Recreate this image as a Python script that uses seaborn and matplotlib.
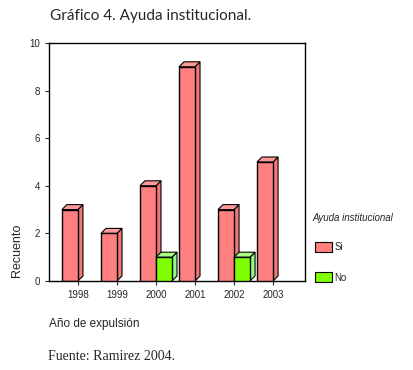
import pandas as pd
import matplotlib
matplotlib.use('Agg')
import matplotlib.pyplot as plt
import seaborn as sns
from matplotlib.patches import Polygon, Patch

# datos
anios = ['1998', '1999', '2000', '2001', '2002', '2003']
ayuda_si = [3, 2, 4, 9, 3, 5]
ayuda_no = [0, 0, 1, 0, 1, 0]
grupos = ['Si', 'No']

df = pd.DataFrame({
    'anio': anios * 2,
    'ayuda': ['Si'] * len(anios) + ['No'] * len(anios),
    'recuento': ayuda_si + ayuda_no,
})

sns.set_style('white')
plt.rcParams['font.family'] = ['Liberation Sans', 'DejaVu Sans']

fig = plt.figure(figsize=(4.13, 3.70), dpi=100)
ax = fig.add_axes([49 / 413, 1 - 281 / 370, 256 / 413, 238 / 370])

colores = {'Si': '#ff8080', 'No': '#80ff00'}
lados = {'Si': '#f27878', 'No': '#8cff8c'}
topes = {'Si': '#ff9a9a', 'No': '#a6ff80'}

sns.barplot(data=df, x='anio', y='recuento', hue='ayuda', hue_order=grupos,
            palette=colores, saturation=1, width=0.82, edgecolor='black',
            linewidth=1, legend=False, ax=ax)

# efecto 3D: caras lateral y superior a partir de cada barra
dx, dy = 0.13, 0.21
for grupo, cont in zip(grupos, ax.containers):
    for bar in cont:
        h = bar.get_height()
        if h <= 0:
            bar.set_visible(False)
            continue
        x0 = bar.get_x()
        x1 = x0 + bar.get_width()
        z = 2 + x0
        bar.set_zorder(z)
        lado = Polygon([(x1, 0), (x1 + dx, dy), (x1 + dx, h + dy), (x1, h)],
                       closed=True, facecolor=lados[grupo], edgecolor='black',
                       linewidth=0.8, zorder=z - 0.01)
        tope = Polygon([(x0, h), (x0 + dx, h + dy), (x1 + dx, h + dy), (x1, h)],
                       closed=True, facecolor=topes[grupo], edgecolor='black',
                       linewidth=0.8, zorder=z - 0.01)
        ax.add_patch(lado)
        ax.add_patch(tope)

ax.set_xlim(-0.74, 5.82)
ax.set_ylim(0, 10)
ax.set_yticks([0, 2, 4, 6, 8, 10])
ax.tick_params(axis='both', labelsize=7, length=3, direction='out',
               left=True, bottom=True, width=0.8)
for s in ax.spines.values():
    s.set_visible(True)
    s.set_color('black')
    s.set_linewidth(1)
ax.set_xlabel('')
ax.set_ylabel('')

fig.text(50 / 413, 1 - 20 / 370, 'Gráfico 4. Ayuda institucional.',
         fontsize=11, family=['Lato', 'DejaVu Sans'], va='baseline')
fig.text(17 / 413, 1 - 250 / 370, 'Recuento', rotation=90, fontsize=9,
         ha='center', va='center')
fig.text(49 / 413, 1 - 327 / 370, 'Año de expulsión', fontsize=8.5,
         va='baseline')
fig.text(48 / 413, 1 - 360 / 370, 'Fuente: Ramirez 2004.', fontsize=10,
         family=['Liberation Serif'], va='baseline')

# leyenda
fig.text(312 / 413, 1 - 221 / 370, 'Ayuda institucional', fontsize=7,
         style='italic', va='baseline')
handles = [Patch(facecolor=colores[g], edgecolor='black', linewidth=0.8)
           for g in grupos]
fig.legend(handles, grupos, loc='upper left',
           bbox_to_anchor=(306 / 413, 1 - 233 / 370), frameon=False,
           fontsize=7, handlelength=1.8, handleheight=1.2,
           handletextpad=0.2, labelspacing=2.1)

fig.savefig('out.png', dpi=100)
